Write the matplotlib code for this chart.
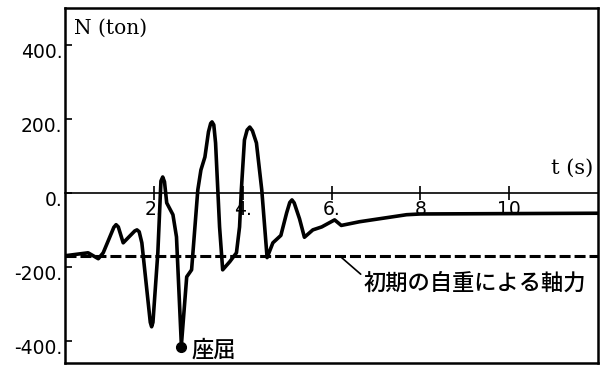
import matplotlib
matplotlib.use("Agg")
import matplotlib.pyplot as plt
import matplotlib.transforms as mtransforms

# 軸力の時刻歴 (t [s], N [ton])
t = [0.0, 0.52, 0.75, 0.86, 1.10, 1.15, 1.20, 1.31, 1.57, 1.62, 1.67, 1.73,
     1.92, 1.95, 1.98, 2.09, 2.16, 2.20, 2.24, 2.29, 2.43, 2.51, 2.62, 2.74,
     2.85, 2.88, 2.99, 3.06, 3.15, 3.23, 3.28, 3.31, 3.35, 3.39, 3.48, 3.55,
     3.71, 3.86, 3.93, 3.97, 4.04, 4.10, 4.16, 4.22, 4.31, 4.43, 4.55, 4.68,
     4.86, 4.99, 5.06, 5.11, 5.16, 5.28, 5.39, 5.58, 5.78, 6.07, 6.22, 6.63,
     7.69, 8.0, 12.0]
N = [-170, -162, -178, -162, -93, -86, -92, -135, -103, -100, -105, -135,
     -350, -362, -350, -162, 32, 43, 30, -27, -59, -119, -412, -227,
     -208, -162, 8, 62, 97, 165, 188, 192, 184, 135, -92, -208,
     -186, -162, -92, 8, 143, 170, 178, 168, 135, 8, -175, -135,
     -115, -54, -26, -19, -27, -70, -120, -100, -92, -73, -88, -78,
     -59, -57, -55]

N0 = -170          # 初期の自重による軸力
t_buckle = 2.62    # 座屈
N_buckle = -418

xticks = [2, 4, 6, 8, 10]
xticklabels = ["2.", "4.", "6.", "8", "10"]
yticks = [400, 200, 0, -200, -400]
yticklabels = ["400.", "200.", "0.", "-200.", "-400."]

xlim = (0, 12)
ylim = (-460, 500)

plt.rcParams['font.family'] = ['DejaVu Sans']
jp = ['Noto Sans CJK JP', 'DejaVu Sans']

fig = plt.figure(figsize=(6.06, 3.74), dpi=100)
ax = fig.add_axes([65 / 606, 11 / 374, 533 / 606, 355 / 374])
ax.set_xlim(*xlim)
ax.set_ylim(*ylim)

for s in ax.spines.values():
    s.set_linewidth(1.8)

# 縦軸
ax.set_yticks(yticks)
ax.set_yticklabels(yticklabels)
ax.tick_params(axis='y', direction='in', length=5, width=1.2, pad=2,
               labelsize=13.5)
off = mtransforms.ScaledTranslation(0, 1.5 / 72, fig.dpi_scale_trans)
for lab in ax.get_yticklabels():
    lab.set_verticalalignment('top')
    lab.set_transform(lab.get_transform() + off)

ax.set_xticks([])

# 時間軸は N = 0 の位置に引く
loc0 = (0 - ylim[0]) / (ylim[1] - ylim[0])
sec = ax.secondary_xaxis(loc0)
sec.set_xticks(xticks)
sec.set_xticklabels(xticklabels)
sec.spines['bottom'].set_linewidth(1.2)
sec.tick_params(axis='x', direction='inout', length=10, width=1.2, pad=0,
                labelsize=13.5)

# 軸力と初期値
ax.plot(t, N, color='black', lw=2.6, zorder=3,
        solid_joinstyle='round', solid_capstyle='round')
ax.axhline(N0, color='black', lw=2.2, dashes=(3.6, 1.3), zorder=3)
ax.plot([t_buckle], [N_buckle], 'o', color='black', ms=7, zorder=4)

ax.text(0.2, 470, "N (ton)", family='DejaVu Serif', fontsize=14.5,
        va='top', ha='left')
ax.text(11.9, 40, "t (s)", family='DejaVu Serif', fontsize=15,
        va='bottom', ha='right')
ax.text(t_buckle + 0.22, N_buckle - 8, "座屈", family=jp, fontsize=16,
        fontweight='medium', va='center', ha='left')
ax.annotate("初期の自重による軸力", xy=(6.18, N0), xytext=(6.72, -245),
            family=jp, fontsize=16, fontweight='medium', va='center', ha='left',
            arrowprops=dict(arrowstyle='-', color='black', lw=1.2,
                            shrinkA=0, shrinkB=0, relpos=(0, 0.8)))

fig.savefig("out.png", dpi=100)
